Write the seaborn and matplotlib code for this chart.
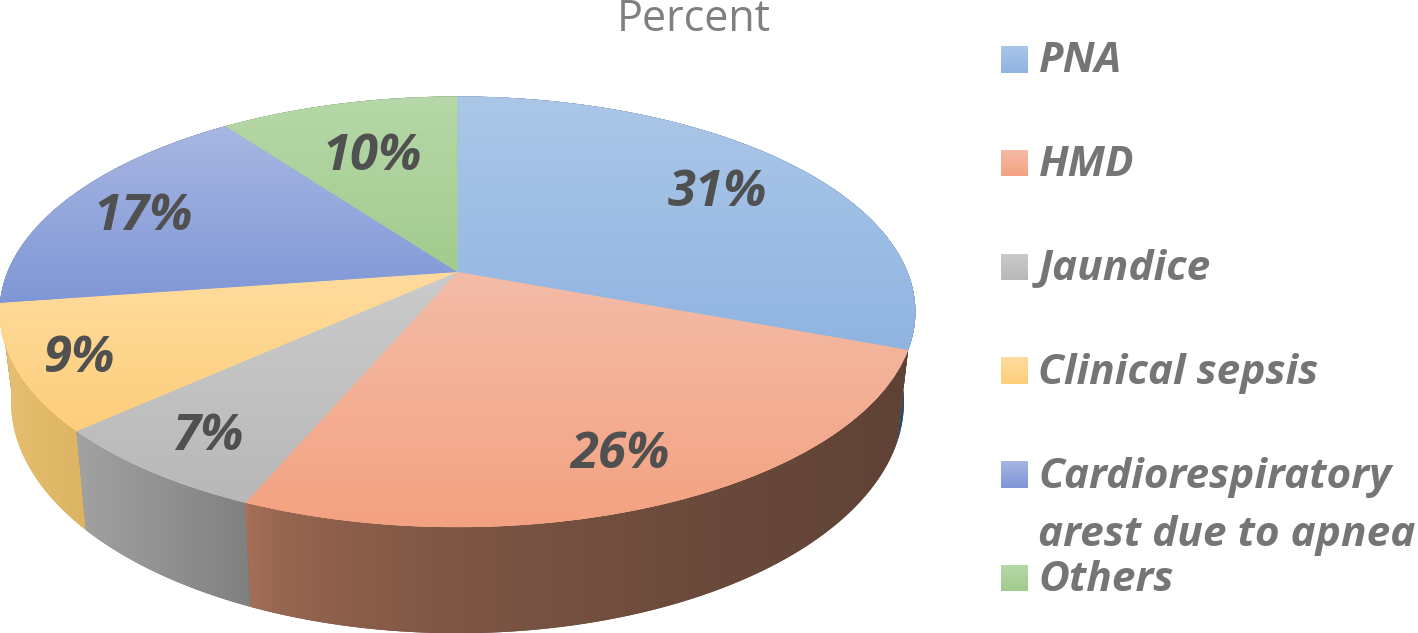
import numpy as np
import matplotlib
matplotlib.use("Agg")
import matplotlib.pyplot as plt
import seaborn as sns
from matplotlib.colors import to_rgb
from matplotlib.patches import Polygon, Rectangle
from matplotlib.transforms import Transform

# ---- data ----
categories = ["PNA", "HMD", "Jaundice", "Clinical sepsis",
              "Cardiorespiratory\narest due to apnea", "Others"]
values = [30.7, 25.7, 6.9, 9.4, 17.2, 10.1]
title = "Percent"

# ---- colours (top of slice -> bottom of slice) ----
top_light = ["#abc7e8", "#f3bca8", "#cbcbcb", "#ffdc9e", "#a8b7e2", "#b6d8a8"]
top_dark = ["#90b4e1", "#f4a281", "#b8b8b8", "#fdce7b", "#7f97d6", "#a2cb8e"]
wall_left = ["#5a7ea6", "#ad745a", "#a2a2a2", "#e6bf70", "#5f75a8", "#7d9c6c"]
wall_right = ["#2f4a62", "#5f4236", "#808080", "#dcb462", "#4a5c85", "#5f7a50"]

# ---- layout, in pixels of the 1418x633 picture ----
CX, CY = 457.5, 272.0
B, A, K = 450.0, 208.0, 0.185
WALL_SCALE = 0.975
label_xy = [(717, 193), (620, 455), (208, 437), (80, 359), (143, 217), (372, 157)]

sns.set_theme(style="white")
plt.rcParams["font.family"] = ["Open Sans", "DejaVu Sans"]
palette = sns.color_palette(top_dark)


def project(uv):
    """Perspective view of the unit disk as seen on the picture."""
    uv = np.asarray(uv, float)
    d = 1 + K * uv[:, 1]
    return np.column_stack([CX + B * uv[:, 0] / d, CY - A * uv[:, 1] / d])


def drop(xy):
    """Where a rim point of the top face lands on the bottom face."""
    out = np.array(xy, float)
    out[:, 1] = xy[:, 1] + 92.5 + 0.075 * (xy[:, 1] - 347)
    out[:, 0] = CX + (xy[:, 0] - CX) * WALL_SCALE
    return out


class Perspective(Transform):
    input_dims = output_dims = 2

    def transform_non_affine(self, values):
        return project(values)


fig = plt.figure(figsize=(14.18, 6.33), dpi=100)
ax = fig.add_axes([0, 0, 1, 1])

wedges, _, autotexts = ax.pie(
    values, colors=palette, startangle=90, counterclock=False,
    autopct="%.0f%%", wedgeprops={"linewidth": 0})
persp = Perspective() + ax.transData


def gradient(patch, c0, c1, vertical, zorder, gamma=1.0):
    """Fill a patch with a linear gradient, using imshow clipped to it."""
    verts = patch.get_transform().transform_path(patch.get_path()).vertices
    verts = ax.transData.inverted().transform(verts)
    x0, y0 = verts.min(0)
    x1, y1 = verts.max(0)
    t = np.linspace(0, 1, 256) ** gamma
    ramp = np.outer(1 - t, to_rgb(c0)) + np.outer(t, to_rgb(c1))
    img = ramp[:, None, :] if vertical else ramp[None, :, :]
    im = ax.imshow(img, extent=(x0, x1, y1, y0), aspect="auto",
                   interpolation="bilinear", zorder=zorder)
    im.set_clip_path(patch)
    return im


ax.set_xlim(0, 1418)
ax.set_ylim(633, 0)
ax.set_aspect("auto")

# side wall of every slice, back slices first
fractions = np.cumsum([0] + values) / sum(values)
paint_order = [0, 5, 4, 3, 2, 1]
for z, i in enumerate(paint_order):
    th = np.linspace(fractions[i], fractions[i + 1], 120) * 2 * np.pi
    rim = project(np.column_stack([np.sin(th), np.cos(th)]))
    wall = Polygon(np.vstack([rim, drop(rim)[::-1]]), closed=True,
                   facecolor=wall_right[i], edgecolor="none",
                   zorder=0.1 + z * 0.02)
    ax.add_patch(wall)
    gradient(wall, wall_left[i], wall_right[i], False, 0.11 + z * 0.02,
             gamma=0.45 if i == 1 else 1.0)

# top face
for i, w in enumerate(wedges):
    w.set_transform(persp)
    w.set_zorder(1)
    gradient(w, top_light[i], top_dark[i], True, 1.1)

# percentage labels
for t, xy in zip(autotexts, label_xy):
    t.set_position(xy)
    t.set(ha="center", va="center", fontsize=36.5, fontweight="bold",
          fontstyle="italic", color="#505050", zorder=5)

# legend
LEG_Y0, LEG_STEP = 72.5, 103.75
for i, name in enumerate(categories):
    base = LEG_Y0 + i * LEG_STEP
    sq = Rectangle((1001, base - 26.5), 26.5, 26.5, facecolor=top_dark[i],
                   edgecolor="none", zorder=1)
    ax.add_patch(sq)
    gradient(sq, top_light[i], top_dark[i], True, 1.1)
    for j, line in enumerate(name.split("\n")):
        ax.text(1038.5, base + j * 59, line, ha="left", va="baseline",
                fontsize=30.5, fontweight="bold", fontstyle="italic",
                color="#757575", zorder=5)

ax.text(694, 31, title, ha="center", va="baseline", fontsize=31,
        color="#7f7f7f", zorder=5)

ax.set_xlim(0, 1418)
ax.set_ylim(633, 0)
ax.set_axis_off()
fig.savefig("out.png", dpi=100, facecolor="white")
